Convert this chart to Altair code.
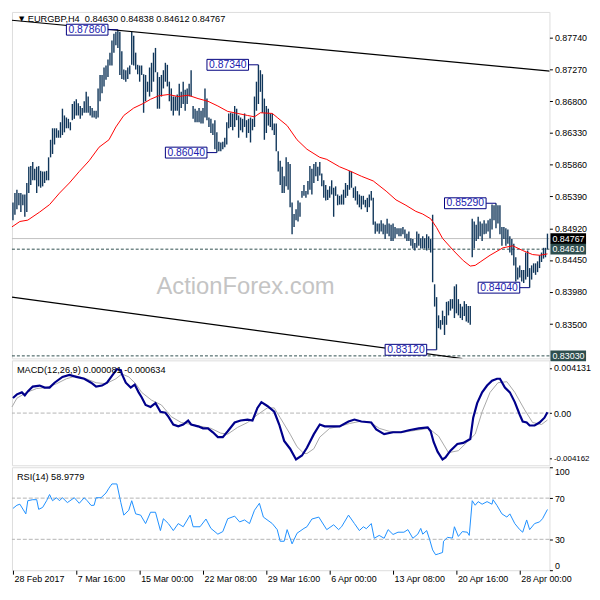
import altair as alt
import pandas as pd

# ---------------- data ----------------
bar_high = [
    0.8530, 0.8544, 0.8549, 0.8544, 0.8544, 0.8542, 0.8542, 0.8559, 0.8583, 0.8584,
    0.8590, 0.8580, 0.8583, 0.8584, 0.8577, 0.8576, 0.8576, 0.8577, 0.8597, 0.8623,
    0.8640, 0.8640, 0.8640, 0.8637, 0.8649, 0.8669, 0.8659, 0.8656, 0.8654, 0.8649,
    0.8676, 0.8680, 0.8683, 0.8677, 0.8673, 0.8670, 0.8680, 0.8694, 0.8687, 0.8673,
    0.8670, 0.8666, 0.8666, 0.8699, 0.8719, 0.8719, 0.8730, 0.8733, 0.8742, 0.8752,
    0.8770, 0.8780, 0.8783, 0.8786, 0.8783, 0.8754, 0.8727, 0.8726, 0.8730, 0.8733,
    0.8783, 0.8777, 0.8752, 0.8734, 0.8733, 0.8733, 0.8720, 0.8719, 0.8709,
    0.8730, 0.8737, 0.8752, 0.8759, 0.8723, 0.8716, 0.8719, 0.8726, 0.8737, 0.8734,
    0.8709, 0.8699, 0.8687, 0.8687, 0.8690, 0.8706, 0.8694, 0.8709, 0.8697, 0.8699,
    0.8706, 0.8726, 0.8673, 0.8669, 0.8666, 0.8670, 0.8666, 0.8670, 0.8699, 0.8684,
    0.8656, 0.8654, 0.8647, 0.8652, 0.8634, 0.8620, 0.8619, 0.8620, 0.8626, 0.8649,
    0.8662, 0.8663, 0.8662, 0.8673, 0.8669, 0.8659, 0.8656, 0.8654, 0.8662, 0.8652,
    0.8654, 0.8656, 0.8654, 0.8687, 0.8709, 0.8734, 0.8726, 0.8720, 0.8684, 0.8673,
    0.8669, 0.8662, 0.8662, 0.8647, 0.8647, 0.8606, 0.8592, 0.8583, 0.8569, 0.8597,
    0.8590, 0.8587, 0.8530, 0.8513, 0.8520, 0.8533, 0.8530, 0.8547, 0.8556, 0.8547,
    0.8562, 0.8584, 0.8580, 0.8587, 0.8590, 0.8583, 0.8590, 0.8573, 0.8563, 0.8556,
    0.8549, 0.8554, 0.8563, 0.8552, 0.8554, 0.8542, 0.8540, 0.8542, 0.8549, 0.8559,
    0.8556, 0.8577, 0.8576, 0.8552, 0.8554, 0.8547, 0.8542, 0.8540, 0.8540, 0.8534,
    0.8537, 0.8542, 0.8547, 0.8537, 0.8502, 0.8499, 0.8499, 0.8504, 0.8499, 0.8497,
    0.8506, 0.8499, 0.8497, 0.8499, 0.8494, 0.8492, 0.8492, 0.8492, 0.8494, 0.8490,
    0.8484, 0.8487, 0.8477, 0.8476, 0.8470, 0.8487, 0.8484, 0.8477,
    0.8480, 0.8477, 0.8483, 0.8480, 0.8476, 0.8512, 0.8409, 0.8390, 0.8363, 0.8356,
    0.8370, 0.8362, 0.8383, 0.8384, 0.8387, 0.8387, 0.8406, 0.8409, 0.8387, 0.8380,
    0.8376, 0.8384, 0.8380, 0.8377, 0.8377, 0.8506, 0.8502, 0.8497, 0.8509, 0.8502,
    0.8499, 0.8504, 0.8499, 0.8504, 0.8506, 0.8527, 0.8526, 0.8529, 0.8526, 0.8526,
    0.8494, 0.8494, 0.8492, 0.8490, 0.8480, 0.8476, 0.8469, 0.8449, 0.8434, 0.8437,
    0.8430, 0.8430, 0.8456, 0.8459, 0.8433, 0.8437, 0.8440, 0.8440, 0.8443, 0.8452,
    0.8456, 0.8463, 0.8463, 0.8484,
]
bar_low = [
    0.8504, 0.8512, 0.8520, 0.8526, 0.8516, 0.8526, 0.8509, 0.8516, 0.8544, 0.8556,
    0.8563, 0.8563, 0.8544, 0.8554, 0.8552, 0.8554, 0.8559, 0.8563, 0.8563, 0.8597,
    0.8602, 0.8616, 0.8626, 0.8626, 0.8626, 0.8630, 0.8634, 0.8640, 0.8640, 0.8637,
    0.8652, 0.8654, 0.8659, 0.8659, 0.8654, 0.8659, 0.8663, 0.8663, 0.8663, 0.8659,
    0.8656, 0.8656, 0.8654, 0.8656, 0.8680, 0.8692, 0.8702, 0.8712, 0.8716, 0.8733,
    0.8733, 0.8752, 0.8763, 0.8759, 0.8719, 0.8713, 0.8712, 0.8709, 0.8713, 0.8720,
    0.8734, 0.8733, 0.8727, 0.8720, 0.8709, 0.8719, 0.8663, 0.8680, 0.8694,
    0.8687, 0.8694, 0.8709, 0.8723, 0.8669, 0.8669, 0.8687, 0.8699, 0.8709, 0.8702,
    0.8680, 0.8666, 0.8659, 0.8666, 0.8666, 0.8659, 0.8670, 0.8676, 0.8666, 0.8676,
    0.8687, 0.8687, 0.8654, 0.8649, 0.8649, 0.8649, 0.8647, 0.8647, 0.8656, 0.8652,
    0.8642, 0.8633, 0.8630, 0.8609, 0.8604, 0.8606, 0.8606, 0.8609, 0.8612, 0.8616,
    0.8640, 0.8642, 0.8637, 0.8642, 0.8652, 0.8626, 0.8637, 0.8634, 0.8642, 0.8626,
    0.8633, 0.8619, 0.8637, 0.8642, 0.8666, 0.8676, 0.8694, 0.8663, 0.8623, 0.8633,
    0.8644, 0.8642, 0.8637, 0.8630, 0.8606, 0.8576, 0.8556, 0.8544, 0.8544, 0.8554,
    0.8549, 0.8523, 0.8483, 0.8494, 0.8504, 0.8502, 0.8509, 0.8537, 0.8540, 0.8537,
    0.8542, 0.8549, 0.8542, 0.8559, 0.8569, 0.8562, 0.8570, 0.8554, 0.8537, 0.8533,
    0.8534, 0.8537, 0.8542, 0.8509, 0.8540, 0.8526, 0.8527, 0.8527, 0.8527, 0.8537,
    0.8540, 0.8549, 0.8552, 0.8537, 0.8533, 0.8527, 0.8523, 0.8520, 0.8527, 0.8523,
    0.8516, 0.8523, 0.8533, 0.8497, 0.8484, 0.8487, 0.8484, 0.8487, 0.8483, 0.8476,
    0.8484, 0.8480, 0.8473, 0.8473, 0.8477, 0.8483, 0.8480, 0.8480, 0.8483, 0.8477,
    0.8473, 0.8473, 0.8466, 0.8462, 0.8459, 0.8463, 0.8466, 0.8462,
    0.8462, 0.8462, 0.8459, 0.8462, 0.8456, 0.8412, 0.8376, 0.8312, 0.8344, 0.8342,
    0.8349, 0.8334, 0.8349, 0.8363, 0.8370, 0.8373, 0.8359, 0.8366, 0.8363, 0.8359,
    0.8356, 0.8362, 0.8354, 0.8352, 0.8349, 0.8449, 0.8462, 0.8473, 0.8476, 0.8480,
    0.8473, 0.8483, 0.8484, 0.8487, 0.8477, 0.8490, 0.8504, 0.8492, 0.8499, 0.8483,
    0.8466, 0.8476, 0.8466, 0.8469, 0.8456, 0.8452, 0.8437, 0.8413, 0.8416, 0.8419,
    0.8413, 0.8411, 0.8416, 0.8420, 0.8404, 0.8416, 0.8426, 0.8423, 0.8427, 0.8433,
    0.8442, 0.8447, 0.8449, 0.8461,
]

ma_idx = [-0.5, 3.5, 7.5, 13.5, 18.5, 23.5, 28.5, 33.5, 38.5, 43.5, 48.5, 52, 56, 61, 66,
          69.5, 73.5, 78.5, 83.5, 88.5, 93.5, 98.5, 103.5, 108.5, 113.5, 118.5, 122, 125, 131,
          133.5, 138.5, 143.5, 148.5, 155, 158.5, 165, 170, 176, 182, 188.5, 193.5, 198.5,
          203.5, 207, 211, 214, 217, 222.5, 227.5, 231, 233.5, 236, 241, 247.5, 252.5, 257.5,
          262.5, 266, 270]
ma_price = [0.8494, 0.8502, 0.8504, 0.8516, 0.8527, 0.8544, 0.8559, 0.8576, 0.8592, 0.8612,
            0.8623, 0.8642, 0.8659, 0.8670, 0.8677, 0.8683, 0.8688, 0.8690, 0.8687, 0.8689,
            0.8684, 0.8680, 0.8673, 0.8665, 0.8662, 0.8659, 0.8657, 0.8663, 0.8662, 0.8656,
            0.8644, 0.8623, 0.8609, 0.8597, 0.8594, 0.8583, 0.8577, 0.8569, 0.8562, 0.8547,
            0.8534, 0.8526, 0.8517, 0.8513, 0.8506, 0.8493, 0.8477, 0.8459, 0.8444, 0.8436,
            0.8437, 0.8442, 0.8452, 0.8463, 0.8466, 0.8459, 0.8453, 0.8452, 0.8454]

chan_name = ["upper", "upper", "lower", "lower"]
chan_idx = [-0.5, 277.0, -0.5, 227.0]
chan_price = [0.8800, 0.8723, 0.8390, 0.8299]

bid_price = [0.84767]
dash_prices = [0.8461, 0.8303]

tag_price = [0.84767, 0.8461, 0.8303]
tag_text = ["0.84767", "0.84610", "0.83030"]
tag_fill = ["#000000", "#2f4f4f", "#2f4f4f"]

ann_idx = [53, 124, 103, 244, 261, 214]
ann_price = [0.8786, 0.8734, 0.8604, 0.8529, 0.8404, 0.8312]
ann_text = ["0.87860", "0.87340", "0.86040", "0.85290", "0.84040", "0.83120"]

price_ticks = [0.8774, 0.8727, 0.8680, 0.8633, 0.8586, 0.8539, 0.8492, 0.8445, 0.8398, 0.8350]

macd_idx = [0, 2, 4.5, 6, 7.5, 10, 13.5, 16, 18.5, 21, 25, 28.5, 32, 36, 39.5, 42, 45, 47.5, 50,
            52.5, 54.5, 55, 57, 59.5, 61.5, 63.5, 65, 67, 69.5, 72, 74.5, 77, 78.5, 81, 83.5, 86,
            88.5, 90, 93.5, 96, 98.5, 101, 103.5, 106, 108.5, 112, 115, 118.5, 121, 123.5, 125.5,
            128.5, 132, 134.5, 137, 140, 143, 146, 148.5, 152, 155, 157.5, 161, 165, 169.5, 172.5,
            176, 181, 183.5, 187.5, 192, 196, 200, 205, 209.5, 211, 212.5, 214.5, 217, 218.5, 221,
            224.5, 227.5, 231, 232.5, 234.5, 237, 239.5, 242, 244.5, 246, 248.5, 251, 253.5, 256,
            257.5, 259.5, 261, 263.5, 266, 268.5, 270]
macd_val = [0.00138, 0.00171, 0.00189, 0.00162, 0.00198, 0.00242, 0.00251, 0.00233, 0.00233,
            0.00277, 0.00330, 0.00348, 0.00330, 0.00313, 0.00277, 0.00242, 0.00251, 0.00277,
            0.00339, 0.00401, 0.00392, 0.00357, 0.00277, 0.00233, 0.00260, 0.00189, 0.00144,
            0.00074, 0.00056, 0.00091, 0.00012, 0.00003, -0.00033, -0.00104, -0.00121, -0.00104,
            -0.00068, -0.00104, -0.00121, -0.00139, -0.00139, -0.00175, -0.00219, -0.00219,
            -0.00166, -0.00086, -0.00068, -0.00059, -0.00068, 0.00047, 0.00100, 0.00065, 0.00012,
            -0.00104, -0.00254, -0.00325, -0.00423, -0.00387, -0.00316, -0.00192, -0.00104,
            -0.00121, -0.00121, -0.00121, -0.00077, -0.00059, -0.00077, -0.00086, -0.00148,
            -0.00192, -0.00175, -0.00175, -0.00157, -0.00139, -0.00130, -0.00166, -0.00263,
            -0.00352, -0.00423, -0.00405, -0.00343, -0.00281, -0.00272, -0.00237, -0.00042,
            0.00091, 0.00189, 0.00251, 0.00295, 0.00313, 0.00313, 0.00233, 0.00189, 0.00100,
            -0.00015, -0.00077, -0.00086, -0.00113, -0.00113, -0.00086, -0.00042, 0.00008]
sig_idx = [-0.5, 2, 7, 12, 17, 22, 27, 32, 37, 42, 47, 52, 55, 58.5, 62, 65, 70, 75, 80, 85, 90,
           95, 100, 105, 108.5, 113.5, 118.5, 123.5, 128.5, 132, 135, 140, 143.5, 147, 148.5, 152,
           155, 160, 165, 170, 175, 180, 185, 190, 197, 203.5, 210, 215, 220, 225, 230, 233.5,
           237, 241, 245, 249.5, 253.5, 258.5, 262.5, 267, 270]
sig_val = [0.00056, 0.00136, 0.00189, 0.00224, 0.00233, 0.00268, 0.00313, 0.00339, 0.00313,
           0.00277, 0.00268, 0.00313, 0.00357, 0.00330, 0.00268, 0.00189, 0.00118, 0.00074,
           -0.00033, -0.00086, -0.00104, -0.00121, -0.00139, -0.00183, -0.00192, -0.00130,
           -0.00086, -0.00015, 0.00047, 0.00047, -0.00042, -0.00192, -0.00307, -0.00369,
           -0.00369, -0.00325, -0.00219, -0.00139, -0.00121, -0.00095, -0.00077, -0.00077,
           -0.00139, -0.00166, -0.00175, -0.00157, -0.00139, -0.00210, -0.00361, -0.00343,
           -0.00254, -0.00192, 0.00012, 0.00189, 0.00277, 0.00286, 0.00189, 0.00029, -0.00086,
           -0.00104, -0.00063]
macd_ticks = [0.004131, 0.0, -0.004162]
macd_tick_text = ["0.004131", "0.00", "-0.004162"]

rsi_idx = [0, 2, 3.5, 5, 6.5, 7.5, 10, 12, 13, 15, 17, 18.5, 20, 22, 23.5, 25, 27.5, 31, 33.5, 36,
           37.5, 39.5, 41, 42, 44.5, 47, 48.5, 50, 52.5, 54.5, 56, 58.5, 60, 62, 64.5, 67, 69.5, 72,
           74.5, 76, 78.5, 81, 83.5, 86, 89.5, 91, 94.5, 97.5, 100, 103.5, 106, 108.5, 112, 114.5,
           117, 119.5, 122, 124.5, 126.5, 131, 133.5, 135, 137, 138.5, 141, 143.5, 147, 148.5, 151,
           154.5, 158.5, 162, 164.5, 166, 169.5, 172.5, 175, 177, 178.5, 181, 182.5, 185, 187.5,
           189.5, 192, 194.5, 197.5, 199.5, 202, 204.5, 206, 207, 209, 210.5, 212, 213.5, 215, 217,
           217.5, 219.5, 222, 223, 225, 227, 229.5, 230.5, 232, 233.5, 235, 237, 239.5, 242, 242.5,
           244.5, 247, 249.5, 251, 253.5, 256, 257.5, 259.5, 261, 263.5, 266, 267.5, 270]
rsi_val = [60.0, 63.1, 64.1, 59.4, 54.7, 67.5, 68.5, 68.5, 59.1, 61.0, 67.5, 73.5, 67.5, 70.4, 67.5,
           70.4, 65.7, 70.4, 65.0, 70.4, 67.5, 62.9, 63.1, 70.4, 70.4, 75.0, 79.7, 83.8, 83.8, 65.7,
           53.5, 58.2, 67.5, 54.7, 53.5, 45.3, 56.3, 56.3, 38.5, 50.0, 45.3, 38.5, 45.3, 42.2, 53.5,
           42.2, 42.2, 49.7, 40.6, 35.0, 37.5, 50.0, 52.5, 46.9, 48.8, 45.3, 58.2, 65.0, 51.6, 45.3,
           39.4, 28.1, 28.1, 39.4, 25.6, 35.9, 40.6, 42.2, 49.7, 51.6, 39.4, 44.1, 39.4, 42.2, 53.5,
           45.3, 38.5, 42.2, 40.3, 45.3, 31.0, 33.8, 31.0, 39.4, 34.7, 36.9, 36.9, 39.4, 31.0, 35.0,
           40.6, 35.0, 38.5, 29.7, 19.7, 15.0, 15.9, 17.2, 28.1, 31.9, 31.2, 42.2, 32.8, 37.5, 36.9,
           33.8, 67.5, 63.1, 66.6, 64.1, 66.6, 64.1, 68.5, 62.9, 54.7, 51.6, 54.7, 45.3, 39.4, 36.9,
           48.8, 39.4, 45.3, 46.9, 50.0, 59.0]
rsi_levels = [30, 70]
rsi_ticks = [0, 30, 70, 100]

time_idx = [0, 32, 64, 96, 128, 160, 192, 224, 256]
time_text = ["28 Feb 2017", "7 Mar 16:00", "15 Mar 00:00", "22 Mar 08:00", "29 Mar 16:00",
             "6 Apr 00:00", "13 Apr 08:00", "20 Apr 16:00", "28 Apr 00:00"]

header = "EURGBP,H4\u00a0 0.84630 0.84838 0.84612 0.84767"
macd_title = "MACD(12,26,9) 0.000081 -0.000634"
rsi_title = "RSI(14) 58.9779"
watermark = "ActionForex.com"

# ---------------- layout / style ----------------
W = 543
H_MAIN, H_MACD, H_RSI = 350, 106, 104
X_DOM = [-0.5, 271.0]            # 2 px per bar
P_DOM = [0.82993, 0.88123]
M_DOM = [-0.00476, 0.00481]
R_DOM = [0, 100]
FONT = "Liberation Sans"
FS = 9
FT = 9.3
BAR = "#10365a"
TAG_W = 37

X_SCALE = alt.Scale(domain=X_DOM, nice=False, zero=False)
P_SCALE = alt.Scale(domain=P_DOM, nice=False, zero=False)
M_SCALE = alt.Scale(domain=M_DOM, nice=False, zero=False)
R_SCALE = alt.Scale(domain=R_DOM, nice=False, zero=False)

axis_common = dict(orient="right", title=None, grid=False, domain=False, ticks=True,
                   tickColor="black", labelPadding=2, labelFont=FONT,
                   labelColor="black", labelOverlap=False, labelBound=False)
price_axis = alt.Axis(values=price_ticks, format=".5f", labelFlush=False, tickSize=3,
                      labelFontSize=FS, **axis_common)
macd_expr = "[" + ",".join("'%s'" % t for t in macd_tick_text) + "][indexof([" + \
    ",".join(repr(v) for v in macd_ticks) + "], datum.value)]"
macd_axis = alt.Axis(values=macd_ticks, labelExpr=macd_expr, labelFlush=False, tickSize=2,
                     labelFontSize={"condition": {"test": "datum.value < 0", "value": 8}, "value": FS},
                     **axis_common)
rsi_axis = alt.Axis(values=rsi_ticks, format="d", labelFlush=True, tickSize=3,
                    labelFontSize=FS, **axis_common)
time_expr = "[" + ",".join("'%s'" % t for t in time_text) + "][indexof([" + \
    ",".join(str(v) for v in time_idx) + "], datum.value)]"
time_axis = alt.Axis(values=time_idx, labelExpr=time_expr, title=None, grid=False, domain=False,
                     tickSize=4, tickColor="black", labelAlign="left", labelBaseline="top",
                     labelPadding=0, labelOffset=1, labelFont=FONT, labelFontSize=FS,
                     labelColor="black", labelOverlap=False, labelBound=False, labelFlush=False)


def xq(axis=None):
    return alt.X("i", type="quantitative", scale=X_SCALE, axis=axis)


def pq(f):
    return alt.Y(f, type="quantitative", scale=P_SCALE, axis=price_axis)


def mq(f):
    return alt.Y(f, type="quantitative", scale=M_SCALE, axis=macd_axis)


def rq(f):
    return alt.Y(f, type="quantitative", scale=R_SCALE, axis=rsi_axis)


def label(text, x, y, size=FT, color="black", align="left", font=FONT):
    return alt.Chart(pd.DataFrame({"t": [text]})).mark_text(
        font=font, fontSize=size, color=color, align=align, baseline="middle"
    ).encode(x=alt.value(x), y=alt.value(y), text="t:N")


# ---------------- frames ----------------
bars = pd.DataFrame({"i": list(range(len(bar_high))), "high": bar_high, "low": bar_low})
ma_df = pd.DataFrame({"i": ma_idx, "p": ma_price})
chan_df = pd.DataFrame({"name": chan_name, "i": chan_idx, "p": chan_price})
bid_df = pd.DataFrame({"p": bid_price})
dash_df = pd.DataFrame({"p": dash_prices})
tag_df = pd.DataFrame({"p": tag_price, "t": tag_text, "c": tag_fill})
ann_df = pd.DataFrame({"i": ann_idx, "p": ann_price, "t": ann_text})
macd_df = pd.DataFrame({"i": macd_idx, "v": macd_val})
sig_df = pd.DataFrame({"i": sig_idx, "v": sig_val})
zero_df = pd.DataFrame({"v": [0.0]})
rsi_df = pd.DataFrame({"i": rsi_idx, "v": rsi_val})
rlev_df = pd.DataFrame({"v": rsi_levels})

# ---------------- main price panel ----------------
wm = label(watermark, 236, 278, size=24, color="#c4c4c4", align="center")
bid = alt.Chart(bid_df).mark_rule(color="#c0c0c0", strokeWidth=1).encode(y=pq("p"))
dashes = alt.Chart(dash_df).mark_rule(color="#2f4f4f", strokeWidth=1, strokeDash=[3, 2]).encode(y=pq("p"))
bar_layer = alt.Chart(bars).mark_rule(color=BAR, strokeWidth=1.4).encode(
    x=xq(), y=pq("low"), y2=alt.Y2("high"))
ma_layer = alt.Chart(ma_df).mark_line(color="#ff0000", strokeWidth=1).encode(x=xq(), y=pq("p"))
chan_layer = alt.Chart(chan_df).mark_line(color="black", strokeWidth=1.2, clip=True).encode(
    x=xq(), y=pq("p"), detail="name:N")
lead = alt.Chart(ann_df).mark_rule(color="#000080", strokeWidth=1, xOffset=-10).encode(
    x=xq(), x2=alt.X2("i"), y=pq("p"))
box = alt.Chart(ann_df).mark_rect(fill="white", stroke="#000080", strokeWidth=1,
                                  xOffset=-52, x2Offset=-10, yOffset=-5.5, y2Offset=5.5).encode(
    x=xq(), x2=alt.X2("i"), y=pq("p"), y2=alt.Y2("p"))
box_txt = alt.Chart(ann_df).mark_text(font=FONT, fontSize=10.5, color="#1c1cb0", align="center",
                                      baseline="middle", dx=-31).encode(
    x=xq(), y=pq("p"), text="t:N")
tag_rect = alt.Chart(tag_df).mark_rect(yOffset=-5.5, y2Offset=5.5).encode(
    x=alt.value(W + 1), x2=alt.value(W + TAG_W), y=pq("p"), y2=alt.Y2("p"),
    color=alt.Color("c:N", scale=None))
tag_txt = alt.Chart(tag_df).mark_text(font=FONT, fontSize=FS, color="white", align="left",
                                      baseline="middle").encode(
    x=alt.value(W + 3), y=pq("p"), text="t:N")
tri = label("\u25bc", 7, 7, size=7, color="black", font="DejaVu Sans")
head = label(header, 16, 7.5)

main = alt.layer(wm, bid, dashes, bar_layer, ma_layer, chan_layer, lead, box, box_txt,
                 tag_rect, tag_txt, tri, head).properties(width=W, height=H_MAIN)

# ---------------- MACD panel ----------------
zero = alt.Chart(zero_df).mark_rule(color="#b4b4b4", strokeWidth=1, strokeDash=[4, 2]).encode(y=mq("v"))
sig = alt.Chart(sig_df).mark_line(color="#a8a8a8", strokeWidth=1).encode(x=xq(), y=mq("v"))
macd_line = alt.Chart(macd_df).mark_line(color="#00008b", strokeWidth=2.2).encode(x=xq(), y=mq("v"))
macd = alt.layer(zero, sig, macd_line, label(macd_title, 5, 10)).properties(width=W, height=H_MACD)

# ---------------- RSI panel ----------------
rlev = alt.Chart(rlev_df).mark_rule(color="#b4b4b4", strokeWidth=1, strokeDash=[4, 2]).encode(y=rq("v"))
rsi_line = alt.Chart(rsi_df).mark_line(color="#1e90ff", strokeWidth=1).encode(
    x=xq(time_axis), y=rq("v"))
rsi = alt.layer(rlev, rsi_line, label(rsi_title, 5, 10)).properties(width=W, height=H_RSI)

chart = alt.vconcat(main, macd, rsi, spacing=2, bounds="flush").resolve_scale(
    x="independent", y="independent"
).properties(
    padding={"left": 0, "top": 0, "right": 0, "bottom": 0}
).configure_view(
    stroke="black", strokeWidth=1
).configure(background="white", font=FONT)

chart.save("out.html", embed_options={"renderer": "svg", "actions": False})
